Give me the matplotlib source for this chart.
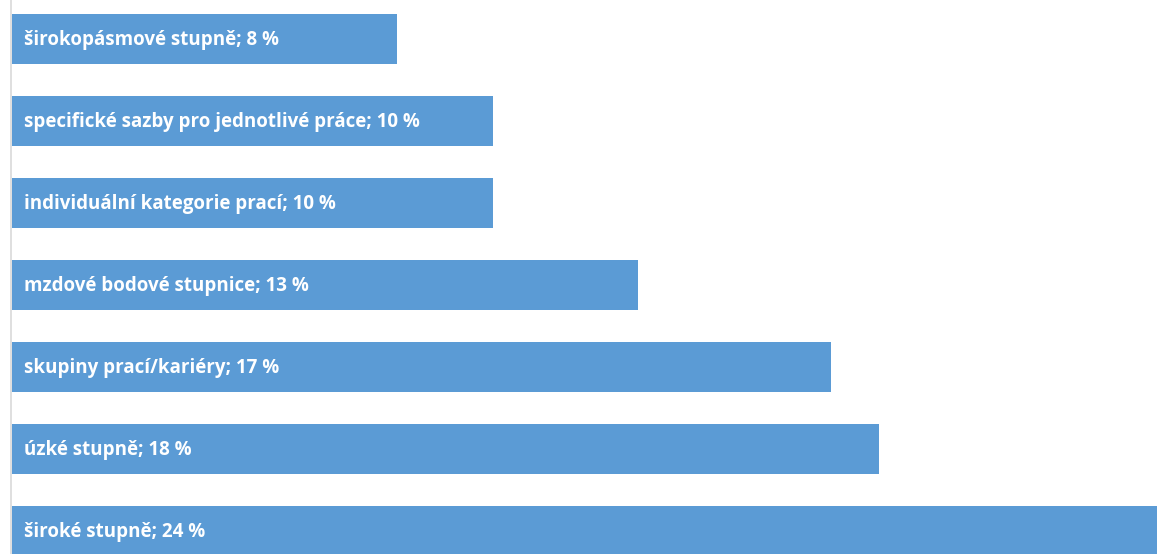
import matplotlib
matplotlib.use("Agg")
import matplotlib.pyplot as plt
from matplotlib.lines import Line2D

categories = [
    "široké stupně",
    "úzké stupně",
    "skupiny prací/kariéry",
    "mzdové bodové stupnice",
    "individuální kategorie prací",
    "specifické sazby pro jednotlivé práce",
    "širokopásmové stupně",
]
values = [24, 18, 17, 13, 10, 10, 8]

W, H = 1157, 554
fig = plt.figure(figsize=(W / 100, H / 100), dpi=100)
fig.patch.set_facecolor("white")

x0_px = 12
ax = fig.add_axes([x0_px / W, 0, 1 - x0_px / W, 1])
ax.set_xlim(0, (W - x0_px) / 48.15)
ax.set_ylim(-23 / 82, 6 + 39 / 82)
ax.axis("off")

ypos = list(range(len(values)))
ax.barh(ypos, values, height=0.61, color="#5B9BD5", edgecolor="none")

for y, cat, v in zip(ypos, categories, values):
    ax.annotate(f"{cat}; {v} %", xy=(0, y), xytext=(12, -1),
                textcoords="offset pixels", va="center", ha="left",
                color="white", fontsize=13.5, fontweight="bold",
                family=["Open Sans", "DejaVu Sans"])

fig.add_artist(Line2D([10.5 / W, 10.5 / W], [0, 1], transform=fig.transFigure,
                      color="#D9D9D9", linewidth=1.2))

fig.savefig("out.png", dpi=100)
